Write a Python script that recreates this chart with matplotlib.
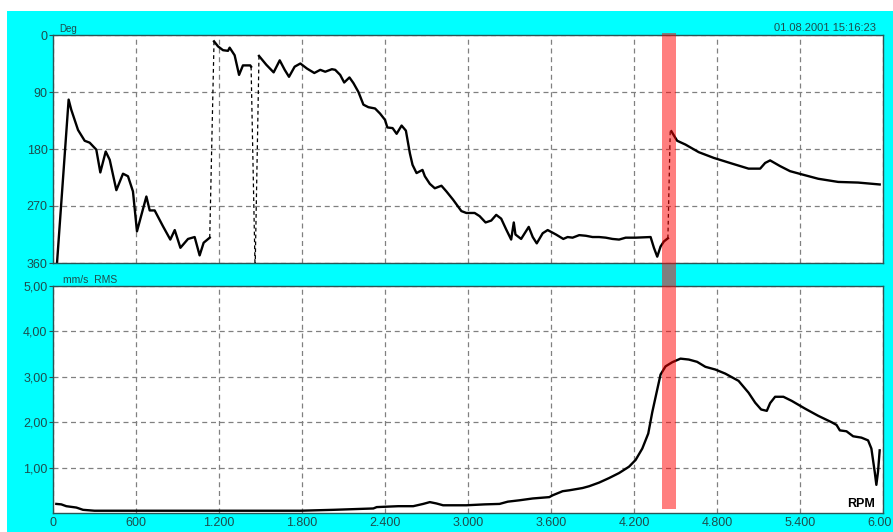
import matplotlib.pyplot as plt
from matplotlib.patches import Rectangle
from matplotlib.transforms import blended_transform_factory, ScaledTranslation

plt.rcParams['font.family'] = ['Liberation Sans', 'DejaVu Sans']

# phase (Deg) curve, split where the phase jumps
seg1_rpm = [29, 113, 132, 181, 229, 265, 313, 342, 381, 410, 458, 506, 542, 578, 607,
            675, 699, 735, 795, 848, 880, 921, 976, 1024, 1060, 1089, 1133]
seg1_deg = [360, 102, 118, 150, 167, 170, 181, 217, 184, 197, 245, 219, 223, 247, 310,
            255, 277, 277, 302, 323, 308, 336, 322, 319, 348, 328, 320]

seg2_rpm = [1164, 1193, 1229, 1265, 1277, 1313, 1345, 1373, 1426, 1432]
seg2_deg = [10, 18, 24, 25, 20, 32, 63, 48, 48, 50]

seg3_rpm = [1489, 1542, 1595, 1639, 1675, 1706, 1747, 1788, 1836, 1889, 1932, 1968, 2016,
            2040, 2076, 2105, 2143, 2172, 2208, 2244, 2280, 2328, 2364, 2400, 2417, 2455,
            2484, 2520, 2551, 2580, 2599, 2628, 2671, 2688, 2724, 2760, 2808, 2844, 2892,
            2952, 2988, 3048, 3084, 3127, 3168, 3204, 3240, 3276, 3312, 3331, 3343, 3384,
            3439, 3468, 3497, 3540, 3576, 3636, 3689, 3720, 3756, 3804, 3852, 3900, 3948,
            3996, 4044, 4092, 4140, 4212, 4320, 4344, 4368, 4392, 4416, 4445]
seg3_deg = [33, 47, 59, 40, 55, 66, 50, 45, 53, 60, 55, 58, 54,
            55, 63, 75, 67, 76, 90, 110, 114, 116, 124, 134, 146, 147,
            156, 143, 151, 187, 205, 218, 213, 223, 235, 242, 238, 247, 260,
            278, 281, 281, 286, 296, 293, 284, 290, 307, 323, 296, 315, 322,
            303, 319, 329, 313, 308, 315, 322, 319, 320, 316, 317, 319, 319,
            320, 322, 323, 320, 320, 319, 336, 350, 334, 326, 321]

seg4_rpm = [4470, 4512, 4572, 4668, 4776, 4908, 5028, 5112, 5148, 5184, 5256, 5328,
            5412, 5532, 5676, 5820, 5976]
seg4_deg = [152, 167, 173, 185, 194, 203, 211, 211, 202, 198, 207, 215,
            220, 227, 232, 233, 236]

# dashed jump connectors
jump_rpm = [[1133, 1164], [1432, 1460], [1489, 1462], [4445, 4462]]
jump_deg = [[320, 10], [50, 360], [33, 360], [321, 150]]

# vibration amplitude (mm/s RMS)
amp_rpm = [24, 60, 96, 169, 217, 300, 600, 900, 1200, 1500, 1788, 2028, 2316, 2340, 2496,
           2604, 2676, 2724, 2772, 2820, 2988, 3120, 3228, 3288, 3372, 3468, 3588, 3612,
           3684, 3732, 3828, 3876, 3948, 4020, 4092, 4164, 4212, 4260, 4303, 4332, 4368,
           4392, 4428, 4476, 4536, 4596, 4656, 4716, 4788, 4860, 4956, 5028, 5076, 5119,
           5160, 5184, 5220, 5280, 5340, 5436, 5532, 5628, 5664, 5688, 5736, 5784, 5844,
           5892, 5916, 5940, 5952, 5964, 5976]
amp_val = [0.20, 0.19, 0.15, 0.12, 0.07, 0.05, 0.05, 0.05, 0.05, 0.05, 0.05, 0.07, 0.10, 0.13, 0.15,
           0.15, 0.20, 0.24, 0.21, 0.17, 0.17, 0.19, 0.20, 0.25, 0.28, 0.32, 0.35, 0.39,
           0.48, 0.50, 0.55, 0.59, 0.67, 0.77, 0.88, 1.02, 1.17, 1.42, 1.75, 2.22, 2.72,
           3.05, 3.23, 3.32, 3.40, 3.38, 3.33, 3.22, 3.16, 3.07, 2.91, 2.65, 2.43, 2.28,
           2.25, 2.42, 2.56, 2.56, 2.47, 2.30, 2.14, 2.00, 1.94, 1.82, 1.80, 1.69, 1.66,
           1.60, 1.42, 0.91, 0.62, 0.91, 1.38]

x_ticks = [0, 600, 1200, 1800, 2400, 3000, 3600, 4200, 4800, 5400, 6000]
x_labels = ['0', '600', '1.200', '1.800', '2.400', '3.000', '3.600', '4.200', '4.800',
            '5.400', '6.00']
deg_ticks = [0, 90, 180, 270, 360]
amp_ticks = [1, 2, 3, 4, 5]
amp_labels = ['1,00', '2,00', '3,00', '4,00', '5,00']
band_rpm = [4400, 4500]

txt_col = '#1d4d4d'
frame_col = '#2a5555'

fig = plt.figure(figsize=(8.93, 5.32), dpi=100)
fig.patch.set_facecolor('white')
fig.add_artist(Rectangle((7 / 893, 0), 1, 1 - 11 / 532, transform=fig.transFigure,
                         facecolor='#00ffff', edgecolor='none', zorder=-10))

ax1 = fig.add_axes([53 / 893, 1 - 263 / 532, 830 / 893, 228 / 532])
ax2 = fig.add_axes([53 / 893, 1 - 513 / 532, 830 / 893, 227 / 532])

for ax in (ax1, ax2):
    ax.set_facecolor('white')
    ax.set_xlim(0, 6000)
    ax.set_xticks(x_ticks)
    ax.grid(True, color='#808080', linestyle=(0, (4, 3)), linewidth=0.9)
    for s in ax.spines.values():
        s.set_color(frame_col)
        s.set_linewidth(1.0)
    ax.tick_params(axis='y', length=3, width=0.8, color=frame_col, labelsize=9,
                   labelcolor=txt_col, pad=1)
    ax.tick_params(axis='x', length=0, labelsize=9, labelcolor=txt_col, pad=3)

# top: phase
for r, d in [(seg1_rpm, seg1_deg), (seg2_rpm, seg2_deg), (seg3_rpm, seg3_deg), (seg4_rpm, seg4_deg)]:
    ax1.plot(r, d, color='black', linewidth=1.7, solid_joinstyle='round')
for r, d in zip(jump_rpm, jump_deg):
    ax1.plot(r, d, color='black', linewidth=0.9, linestyle=(0, (3, 2.5)))
ax1.set_ylim(360, 0)
ax1.set_yticks(deg_ticks)
ax1.set_yticklabels([str(t) for t in deg_ticks])
ax1.set_xticklabels([])
ax1.text(0.008, 1.005, 'Deg', transform=ax1.transAxes, fontsize=7, color=txt_col,
         ha='left', va='bottom')
ax1.text(0.992, 1.008, '01.08.2001 15:16:23', transform=ax1.transAxes, fontsize=8,
         color=txt_col, ha='right', va='bottom')

# bottom: amplitude
ax2.plot(amp_rpm, amp_val, color='black', linewidth=1.7, solid_joinstyle='round')
ax2.set_ylim(0, 5)
ax2.set_yticks(amp_ticks)
ax2.set_yticklabels(amp_labels)
ax2.set_xticklabels(x_labels)
last = ax2.get_xticklabels()[-1]
last.set_ha('right')
last.set_transform(last.get_transform() + ScaledTranslation(9 / 100, 0, fig.dpi_scale_trans))
ax2.text(0.012, 1.005, 'mm/s  RMS', transform=ax2.transAxes, fontsize=7.5, color=txt_col,
         ha='left', va='bottom')
ax2.text(0.99, 0.015, 'RPM', transform=ax2.transAxes, fontsize=9, fontweight='bold',
         color='black', ha='right', va='bottom')

# marker band over both panels
tr = blended_transform_factory(ax2.transData, fig.transFigure)
fig.add_artist(Rectangle((band_rpm[0], 1 - 509 / 532), band_rpm[1] - band_rpm[0],
                         (509 - 33) / 532, transform=tr, facecolor='red', alpha=0.5,
                         edgecolor='none', zorder=20))

fig.savefig('out.png', dpi=100)
